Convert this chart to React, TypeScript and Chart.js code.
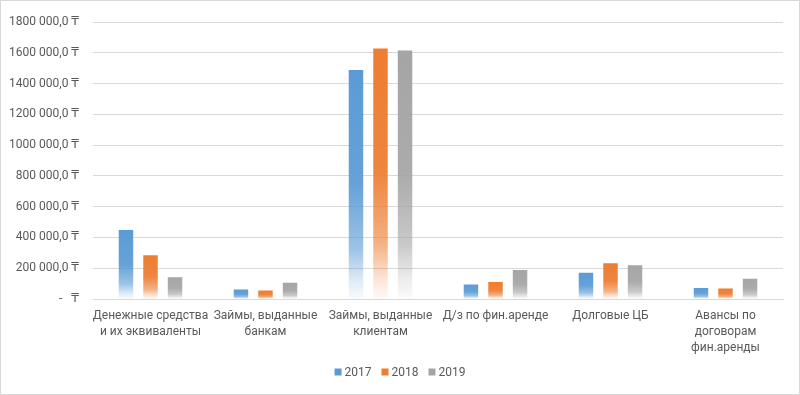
import React, { useEffect, useRef } from "react";
import { Chart, registerables } from "chart.js";

Chart.register(...registerables);

const categories: (string | string[])[] = [
  ["Денежные средства", "и их эквиваленты"],
  ["Займы, выданные", "банкам"],
  ["Займы, выданные", "клиентам"],
  "Д/з по фин.аренде",
  "Долговые ЦБ",
  ["Авансы по", "договорам", "фин.аренды"],
];

const seriesNames = ["2017", "2018", "2019"];
const values2017 = [448000, 61000, 1489000, 95000, 171000, 72000];
const values2018 = [285000, 55000, 1629000, 110000, 232000, 68000];
const values2019 = [141000, 106000, 1616000, 188000, 220000, 131000];
const seriesColors = ["#5B9BD5", "#ED7D31", "#A5A5A5"];

const yMax = 1800000;
const yStep = 200000;

const FONT = "Roboto, 'Open Sans', 'DejaVu Sans', sans-serif";
const TEXT = "#595959";

function hexA(hex: string, a: number) {
  const r = parseInt(hex.slice(1, 3), 16);
  const g = parseInt(hex.slice(3, 5), 16);
  const b = parseInt(hex.slice(5, 7), 16);
  return `rgba(${r},${g},${b},${a})`;
}

function fmt(v: number) {
  if (v === 0) return "-   \u20B8";
  const th = Math.floor(v / 1000);
  const rest = String(v % 1000).padStart(3, "0");
  return `${th} ${rest},0 \u20B8`;
}

function gradientFor(color: string) {
  return (ctx: any) => {
    const chart = ctx.chart;
    const area = chart.chartArea;
    if (!area || ctx.type !== "data") return color;
    const y = chart.scales.y;
    const top = y.getPixelForValue(ctx.raw as number);
    const bottom = y.getPixelForValue(0);
    if (!isFinite(top) || !isFinite(bottom) || bottom - top < 1) return color;
    const g = chart.ctx.createLinearGradient(0, top, 0, bottom);
    g.addColorStop(0, hexA(color, 1));
    g.addColorStop(0.5, hexA(color, 0.93));
    g.addColorStop(0.78, hexA(color, 0.6));
    g.addColorStop(0.92, hexA(color, 0.2));
    g.addColorStop(1, hexA(color, 0.04));
    return g;
  };
}

const legendPlugin = {
  id: "customLegend",
  afterDraw(chart: any) {
    const c = chart.ctx;
    c.save();
    c.font = `12px ${FONT}`;
    c.textBaseline = "middle";
    const box = 7;
    const gapText = 3;
    const gapItem = 10;
    const widths = seriesNames.map((n) => box + gapText + c.measureText(n).width);
    const total = widths.reduce((a, b) => a + b, 0) + gapItem * (widths.length - 1);
    let x = (chart.width - total) / 2;
    const y = 371;
    seriesNames.forEach((n, i) => {
      c.fillStyle = seriesColors[i];
      c.fillRect(x, y - box / 2, box, box);
      c.fillStyle = TEXT;
      c.fillText(n, x + box + gapText, y + 0.5);
      x += widths[i] + gapItem;
    });
    c.restore();
  },
};

export default function App() {
  const ref = useRef<HTMLCanvasElement | null>(null);

  useEffect(() => {
    if (!ref.current) return;
    const data = [values2017, values2018, values2019];
    const chart = new Chart(ref.current, {
      type: "bar",
      data: {
        labels: categories,
        datasets: seriesNames.map((name, i) => ({
          label: name,
          data: data[i],
          backgroundColor: gradientFor(seriesColors[i]),
          borderWidth: 0,
          categoryPercentage: 0.64,
          barPercentage: 0.59,
        })),
      },
      options: {
        animation: false,
        responsive: false,
        maintainAspectRatio: false,
        layout: { padding: { top: 14, right: 16, left: 0, bottom: 0 } },
        plugins: {
          legend: { display: false },
          tooltip: { enabled: false },
        },
        scales: {
          x: {
            grid: { display: false, drawTicks: false },
            border: { display: true, color: "#d9d9d9" },
            ticks: {
              color: TEXT,
              font: { family: FONT, size: 12, lineHeight: 1.33 },
              padding: 9,
              maxRotation: 0,
              autoSkip: false,
            },
            afterFit: (s: any) => {
              s.height = 95;
            },
          },
          y: {
            min: 0,
            max: yMax,
            grid: { color: "#d9d9d9", drawTicks: false },
            border: { display: false },
            ticks: {
              stepSize: yStep,
              color: TEXT,
              font: { family: FONT, size: 12 },
              padding: 14,
              callback: (v: any) => fmt(Number(v)),
            },
            afterFit: (s: any) => {
              s.width = 92;
            },
          },
        },
      },
      plugins: [legendPlugin],
    });
    return () => chart.destroy();
  }, []);

  return (
    <div
      style={{
        position: "absolute",
        left: 0,
        top: 0,
        width: 800,
        height: 395,
        boxSizing: "border-box",
        border: "1px solid #d9d9d9",
        background: "#fff",
      }}
    >
      <canvas ref={ref} width={798} height={393} style={{ display: "block" }} />
    </div>
  );
}
